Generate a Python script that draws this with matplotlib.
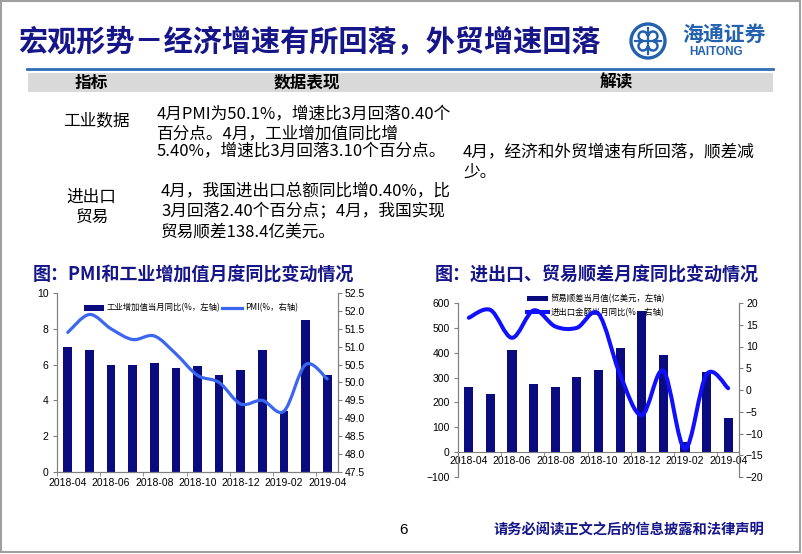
import numpy as np
import matplotlib
matplotlib.use("Agg")
import matplotlib.pyplot as plt
from matplotlib.path import Path
from matplotlib.patches import PathPatch, Rectangle, Circle, Arc
from matplotlib.lines import Line2D

plt.rcParams['font.family'] = ['Noto Sans CJK SC', 'DejaVu Sans']

# ---------------- datos ----------------
months = ['2018-04', '2018-05', '2018-06', '2018-07', '2018-08', '2018-09', '2018-10',
          '2018-11', '2018-12', '2019-01', '2019-02', '2019-03', '2019-04']
ip_growth = [7.0, 6.8, 6.0, 6.0, 6.1, 5.8, 5.9, 5.4, 5.7, 6.8, 3.4, 8.5, 5.4]
pmi = [51.4, 51.9, 51.5, 51.2, 51.3, 50.8, 50.2, 50.0, 49.4, 49.5, 49.2, 50.5, 50.1]
trade_balance = [261, 233, 409, 274, 262, 302, 329, 418, 567, 392, 41, 324, 138]
trade_yoy = [16.6, 18.4, 12.0, 18.3, 14.6, 14.3, 17.5, 3.5, -5.8, 4.4, -13.5, 3.6, 0.4]

title = '宏观形势－经济增速有所回落，外贸增速回落'
header = ['指标', '数据表现', '解读']
industry_lines = ['4月PMI为50.1%，增速比3月回落0.40个', '百分点。4月，工业增加值同比增',
                  '5.40%，增速比3月回落3.10个百分点。']
trade_lines = ['4月，我国进出口总额同比增0.40%，比', '3月回落2.40个百分点；4月，我国实现',
               '贸易顺差138.4亿美元。']
comment_lines = ['4月，经济和外贸增速有所回落，顺差减', '少。']
chart1_title = '图：PMI和工业增加值月度同比变动情况'
chart2_title = '图：进出口、贸易顺差月度同比变动情况'
chart1_labels = ['工业增加值当月同比(%，左轴)', 'PMI(%，右轴)']
chart2_labels = ['贸易顺差当月值(亿美元，左轴)', '进出口金额当月同比(%，右轴)']
footer = '请务必阅读正文之后的信息披露和法律声明'

navy = '#0b0b80'
title_blue = '#16168a'
W, H = 802, 554


def fig_rect(x0, y0, x1, y1):
    # pasa pixeles (arriba-izquierda) a coordenadas de figura
    return [x0 / W, 1 - y1 / H, (x1 - x0) / W, (y1 - y0) / H]


def smooth_path(xs, ys):
    # curva suavizada tipo Excel (Bezier por los puntos)
    n = len(xs)
    verts = [(xs[0], ys[0])]
    codes = [Path.MOVETO]
    for i in range(n - 1):
        a = max(i - 1, 0)
        b = min(i + 2, n - 1)
        c1 = (xs[i] + (xs[i + 1] - xs[a]) / 6, ys[i] + (ys[i + 1] - ys[a]) / 6)
        c2 = (xs[i + 1] - (xs[b] - xs[i]) / 6, ys[i + 1] - (ys[b] - ys[i]) / 6)
        verts += [c1, c2, (xs[i + 1], ys[i + 1])]
        codes += [Path.CURVE4] * 3
    return Path(verts, codes)


fig = plt.figure(figsize=(8.02, 5.54), dpi=100)

# ---------------- fondo / texto de la diapositiva ----------------
bg = fig.add_axes([0, 0, 1, 1], zorder=0)
bg.set_xlim(0, W)
bg.set_ylim(H, 0)
bg.axis('off')

bg.add_patch(Rectangle((1, 1), W - 3, H - 3, fill=False, edgecolor='#a0a0a0', lw=1.5))
bg.text(18, 42, title, fontsize=21, fontweight='bold', color=title_blue, va='center', ha='left')

# logo
logo_c = '#2262ae'
bg.add_patch(Circle((648, 41), 17, fill=False, edgecolor=logo_c, lw=2.4))
for dx, dy, t1, t2 in [(-5, -5, 90, 360), (5, -5, 180, 450), (5, 5, 270, 540), (-5, 5, 0, 270)]:
    bg.add_patch(Arc((648 + dx, 41 + dy), 9, 9, theta1=t1, theta2=t2, edgecolor=logo_c, lw=1.8))
bg.plot([648, 648], [28, 54], color=logo_c, lw=1.6)
bg.plot([635, 661], [41, 41], color=logo_c, lw=1.6)
bg.text(724, 34, '海通证券', fontsize=15, color=logo_c, fontweight='bold', ha='center', va='center',
        fontstyle='italic')
bg.text(716, 52, 'HAITONG', fontsize=8.5, color=logo_c, fontweight='bold', ha='center', va='center',
        family='Liberation Sans')

bg.plot([27, 773], [69, 69], color='#2f6db5', lw=2)
bg.add_patch(Rectangle((28, 73), 745, 19, color='#d9d9d9', lw=0))
for x, s in zip([91, 307, 616], header):
    bg.text(x, 82.5, s, fontsize=12, fontweight='bold', ha='center', va='center', color='black')

bg.text(96, 121, '工业数据', fontsize=12, ha='center', va='center')
bg.text(91, 197, '进出口', fontsize=12, ha='center', va='center')
bg.text(92, 217, '贸易', fontsize=12, ha='center', va='center')
for i, s in enumerate(industry_lines):
    bg.text(157, 115 + i * 18.5, s, fontsize=12, ha='left', va='center')
for i, s in enumerate(trade_lines):
    bg.text(161, 192 + i * 20, s, fontsize=12, ha='left', va='center')
for i, s in enumerate(comment_lines):
    bg.text(463, 152 + i * 20, s, fontsize=12, ha='left', va='center')

bg.text(33, 275, chart1_title, fontsize=13, fontweight='bold', color=title_blue, ha='left', va='center')
bg.text(435, 275, chart2_title, fontsize=13, fontweight='bold', color=title_blue, ha='left', va='center')

bg.text(403, 530, '6', fontsize=11, ha='center', va='center', family='Liberation Sans')
bg.text(629, 530, footer, fontsize=10.3, fontweight='bold', color=title_blue, ha='center', va='center')

x = np.arange(len(months))
tick_font = {'family': 'Liberation Sans', 'size': 7.5}
spine_c = '#808080'


def style_axes(a1, a2):
    for a in (a1, a2):
        a.set_facecolor('none')
        a.spines['top'].set_visible(False)
        for s in ('left', 'right', 'bottom'):
            a.spines[s].set_color(spine_c)
            a.spines[s].set_linewidth(0.8)
    a1.set_xlim(-0.5, len(months) - 0.5)
    a1.set_xticks(x[::2])
    a1.set_xticklabels(months[::2], **tick_font)
    a1.set_xticks(np.arange(-0.5, len(months) - 1, 2), minor=True)
    a1.tick_params(axis='x', which='major', length=0, pad=4)
    a1.tick_params(axis='x', which='minor', length=3, direction='out', color=spine_c)
    a1.tick_params(axis='y', length=3, direction='out', color=spine_c, pad=3)
    a2.tick_params(axis='y', length=3, direction='out', color=spine_c, pad=2)
    for lab in a1.get_yticklabels() + a2.get_yticklabels():
        lab.set_fontfamily('Liberation Sans')
        lab.set_fontsize(7.5)


# ---------------- grafico 1: PMI e industria ----------------
ax1 = fig.add_axes(fig_rect(57, 293, 338, 472), zorder=1)
ax2 = ax1.twinx()
bars1 = ax1.bar(x, ip_growth, width=0.4, color=navy)
ax1.set_ylim(0, 10)
ax1.set_yticks(np.arange(0, 11, 2))
ax2.set_ylim(47.5, 52.5)
ax2.set_yticks(np.arange(47.5, 52.6, 0.5))
ax2.set_yticklabels(['%.1f' % v for v in np.arange(47.5, 52.6, 0.5)])
ax2.add_patch(PathPatch(smooth_path(x, pmi), fill=False, edgecolor='#3a66f0', lw=2.3,
                        capstyle='round', joinstyle='round'))
style_axes(ax1, ax2)
h_line1 = Line2D([], [], color='#3a66f0', lw=2.3)
ax1.legend([bars1, h_line1], chart1_labels, ncol=2, loc='center',
           bbox_to_anchor=(191 / W, 1 - 308 / H), bbox_transform=fig.transFigure,
           frameon=False, fontsize=6, handlelength=2.4, handletextpad=0.3, columnspacing=0.2)

# ---------------- grafico 2: comercio exterior ----------------
ax3 = fig.add_axes(fig_rect(458, 303, 739, 477), zorder=1)
ax4 = ax3.twinx()
bars2 = ax3.bar(x, trade_balance, width=0.42, color=navy, zorder=2)
ax3.set_ylim(-100, 600)
ax3.set_yticks(np.arange(-100, 601, 100))
ax3.spines['bottom'].set_position(('data', 0))
ax4.set_ylim(-20, 20)
ax4.set_yticks(np.arange(-20, 21, 5))
ax4.add_patch(PathPatch(smooth_path(x, trade_yoy), fill=False, edgecolor='#1010ff', lw=2.9,
                        capstyle='round', joinstyle='round'))
style_axes(ax3, ax4)
ax4.spines['bottom'].set_visible(False)
ax3.tick_params(axis='x', which='major', pad=3)
h_line2 = Line2D([], [], color='#1010ff', lw=2.9)
leg2 = ax3.legend([bars2, h_line2], chart2_labels, ncol=1, loc='center',
                  bbox_to_anchor=(596 / W, 1 - 305.5 / H), bbox_transform=fig.transFigure,
                  frameon=False, fontsize=6, handlelength=2.6, handletextpad=0.3, labelspacing=0.5)
leg2.set_zorder(1)

fig.savefig('out.png', dpi=100)
